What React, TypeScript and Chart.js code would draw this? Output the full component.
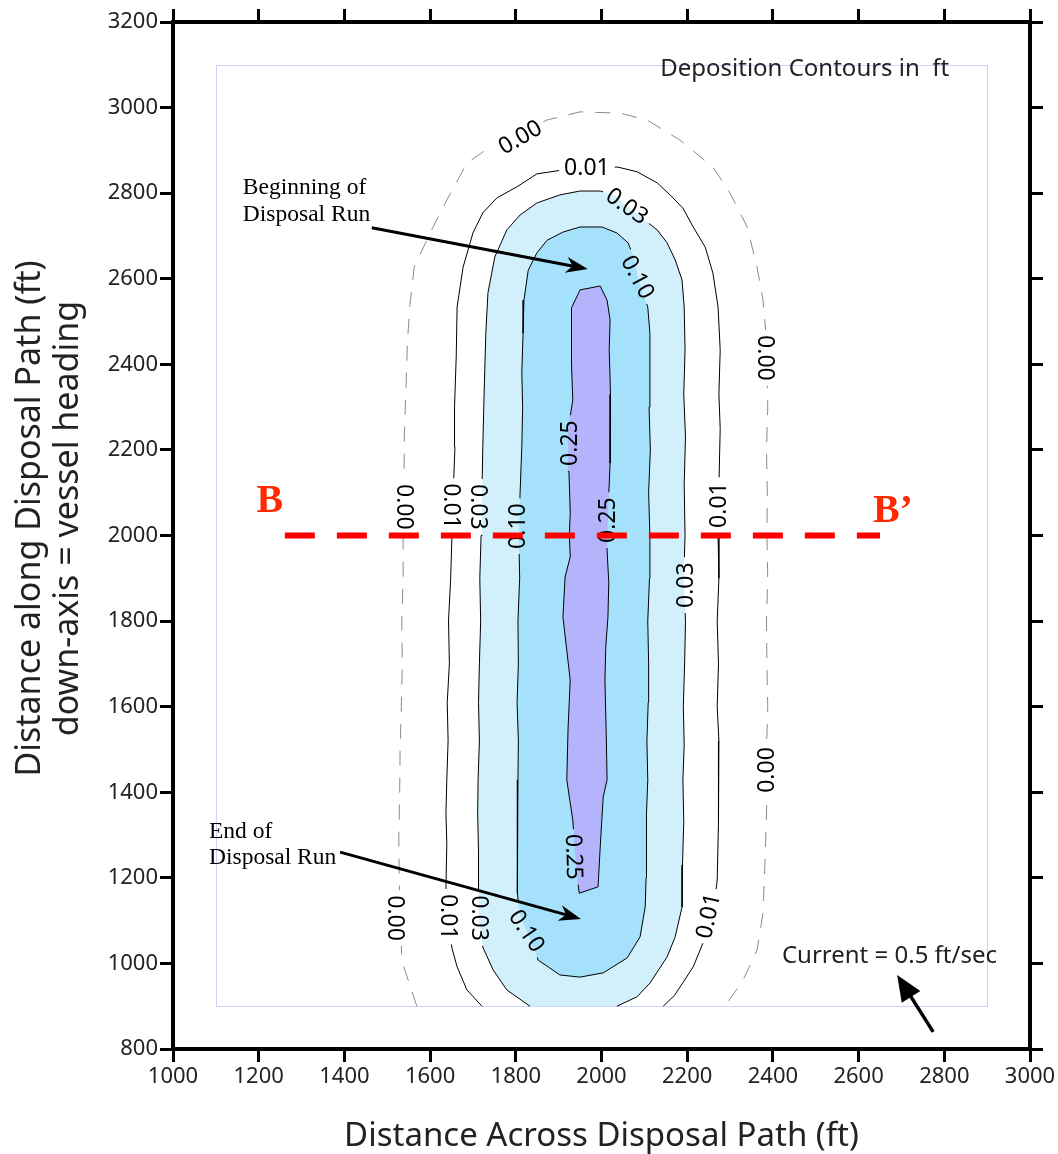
import React, { useEffect, useRef } from 'react';
import { Chart, registerables } from 'chart.js';

Chart.register(...registerables);

// ---- axes ----
const xRange = [1000, 3000];
const yRange = [800, 3200];
const tickStep = 200;
const xAxisTitle = 'Distance Across Disposal Path (ft)';
const yAxisTitle = ['Distance along Disposal Path (ft)', 'down-axis = vessel heading'];

// ---- model grid outline (ft) ----
const gridX = [1100, 2900];
const gridY = [900, 3100];

// ---- contour lines (x ft, y ft) ----
const contour000: [number, number][] = [
  [1569, 900], [1534, 1006], [1531, 1100], [1528, 1200], [1527, 1300], [1529, 1400], [1530, 1500],
  [1533, 1600], [1535, 1700], [1534, 1800], [1537, 1900], [1537, 2000], [1539, 2120],
  [1540, 2240], [1544, 2350], [1547, 2450], [1553, 2540], [1563, 2627], [1600, 2707], [1639, 2784], [1686, 2870], [1740, 2908],
  [1800, 2935], [1873, 2971], [1950, 2990], [2043, 2987], [2106, 2971], [2183, 2924], [2260, 2861],
  [2300, 2800], [2340, 2721], [2363, 2627], [2377, 2550], [2383, 2480], [2386, 2400], [2388, 2300],
  [2385, 2200], [2387, 2100], [2386, 2000], [2388, 1900], [2385, 1800], [2386, 1700],
  [2388, 1600], [2385, 1500], [2386, 1382], [2382, 1250], [2377, 1118], [2363, 1031], [2330, 960], [2288, 900],
];
const contour001: [number, number][] = [
  [1721, 900], [1686, 938], [1663, 992], [1651, 1036], [1640, 1100], [1637, 1179], [1639, 1280],
  [1637, 1350], [1639, 1429], [1642, 1520], [1640, 1610], [1645, 1700], [1643, 1800], [1648, 1900],
  [1651, 2000], [1654, 2100], [1658, 2207], [1657, 2300], [1661, 2420], [1663, 2534], [1677, 2627],
  [1700, 2707], [1723, 2754], [1756, 2789], [1803, 2815], [1849, 2845], [1908, 2854], [1966, 2859],
  [2038, 2861], [2083, 2850], [2130, 2824], [2160, 2796], [2190, 2765], [2214, 2721], [2242, 2674],
  [2260, 2613], [2272, 2534], [2277, 2434], [2274, 2330], [2277, 2250], [2275, 2160], [2272, 2000],
  [2274, 1900], [2270, 1800], [2273, 1700], [2270, 1600], [2274, 1520], [2272, 1429], [2274, 1330],
  [2270, 1195], [2260, 1110], [2237, 1048], [2214, 992], [2190, 955], [2170, 925], [2144, 900],
];
const contour003: [number, number][] = [
  [1833, 900], [1779, 938], [1747, 985], [1723, 1038], [1714, 1106], [1712, 1164], [1714, 1260],
  [1711, 1350], [1712, 1429], [1715, 1520], [1713, 1610], [1715, 1700], [1718, 1800], [1716, 1900],
  [1719, 2000], [1721, 2100], [1723, 2207], [1726, 2330], [1730, 2473], [1735, 2567], [1751, 2651],
  [1779, 2714], [1810, 2749], [1849, 2777], [1903, 2796], [1950, 2805], [1997, 2805], [2030, 2795],
  [2060, 2770], [2095, 2742], [2130, 2714], [2153, 2684], [2172, 2644], [2188, 2597], [2193, 2534],
  [2195, 2434], [2192, 2330], [2196, 2230], [2193, 2120], [2195, 2000], [2192, 1900], [2196, 1800],
  [2194, 1700], [2191, 1600], [2193, 1510], [2190, 1429], [2192, 1330], [2189, 1230], [2188, 1132],
  [2172, 1062], [2153, 1015], [2113, 954], [2083, 922], [2036, 900],
];
const contour010: [number, number][] = [
  [1805, 1429], [1803, 1330], [1805, 1240], [1803, 1164], [1810, 1110], [1826, 1076], [1852, 1008],
  [1903, 973], [1950, 968], [2004, 978], [2060, 1013], [2090, 1062], [2102, 1132], [2104, 1200],
  [2106, 1272], [2104, 1350], [2108, 1429], [2106, 1520], [2109, 1610], [2110, 1700], [2108, 1800],
  [2112, 1900], [2113, 2000], [2110, 2100], [2114, 2200], [2111, 2300], [2113, 2400], [2113, 2473],
  [2108, 2534], [2095, 2570], [2085, 2604], [2075, 2650], [2062, 2684], [2036, 2707], [2001, 2721],
  [1950, 2721], [1910, 2709], [1873, 2690], [1849, 2660], [1829, 2620], [1819, 2550], [1817, 2473],
  [1814, 2380], [1816, 2300], [1814, 2207], [1810, 2100], [1807, 2000], [1809, 1900], [1805, 1800],
  [1806, 1700], [1803, 1610], [1806, 1520], [1805, 1429],
];
const contour025: [number, number][] = [
  [1950, 2574], [1997, 2583], [2013, 2550], [2020, 2504], [2018, 2434], [2021, 2330], [2020, 2207],
  [2020, 2169], [2016, 2070], [2013, 1966], [2017, 1890], [2015, 1809], [2010, 1740], [2008, 1662],
  [2011, 1540], [2013, 1429], [2004, 1389], [1997, 1272], [1992, 1179], [1948, 1164], [1940, 1230],
  [1933, 1335], [1919, 1429], [1922, 1550], [1927, 1662], [1918, 1740], [1910, 1809], [1915, 1903],
  [1927, 1950], [1925, 2000], [1927, 2053], [1924, 2150], [1922, 2247], [1933, 2317], [1930, 2400],
  [1929, 2473], [1931, 2532], [1950, 2574],
];

// ---- contour labels: text, x ft, y ft, angle deg ----
const labels000 = [
  { t: '0.00', x: 1810, y: 2931, a: -30 }, { t: '0.00', x: 1541, y: 2067, a: 90 },
  { t: '0.00', x: 1520, y: 1106, a: 90 }, { t: '0.00', x: 2382, y: 2415, a: 90 },
  { t: '0.00', x: 2386, y: 1452, a: -90 },
];
const labels001 = [
  { t: '0.01', x: 1966, y: 2859, a: 0 }, { t: '0.01', x: 1651, y: 2069, a: 90 },
  { t: '0.01', x: 1644, y: 1109, a: 90 }, { t: '0.01', x: 2272, y: 2071, a: -90 },
  { t: '0.01', x: 2249, y: 1111, a: -78 },
];
const labels003 = [
  { t: '0.03', x: 2060, y: 2770, a: 35 }, { t: '0.03', x: 1714, y: 2067, a: 90 },
  { t: '0.03', x: 1716, y: 1106, a: 90 }, { t: '0.03', x: 2195, y: 1884, a: -90 },
];
const labels010 = [
  { t: '0.10', x: 2085, y: 2604, a: 62 }, { t: '0.10', x: 1805, y: 2022, a: -90 },
  { t: '0.10', x: 1826, y: 1076, a: 56 },
];
const labels025 = [
  { t: '0.25', x: 1926, y: 2216, a: -90 }, { t: '0.25', x: 2015, y: 2036, a: -90 },
  { t: '0.25', x: 1936, y: 1249, a: 88 },
];

// ---- cross-section B-B' ----
const sectionLine: [number, number][] = [[1261, 2000], [2650, 2000]];
const sectionNames = [{ t: 'B', x: 1226, y: 2078 }, { t: 'B\u2019', x: 2680, y: 2055 }];

// ---- annotations ----
const legendNote = { t: 'Deposition Contours in  ft', x: 2137, y: 3090 };
const currentNote = { t: 'Current = 0.5 ft/sec', x: 2421, y: 1017 };
const currentArrow: [number, number][] = [[2774, 840], [2690, 973]];
const beginNote = { lines: ['Beginning of', 'Disposal Run'], x: 1163, y: [2812, 2749] };
const beginArrow: [number, number][] = [[1464, 2719], [1968, 2623]];
const endNote = { lines: ['End of', 'Disposal Run'], x: 1084, y: [1307, 1246] };
const endArrow: [number, number][] = [[1390, 1260], [1952, 1104]];

const FONT = 'Noto Sans';
const SERIF = 'Liberation Serif';

const pts = (a: [number, number][]) => a.map(([x, y]) => ({ x, y }));

function drawArrow(ctx: CanvasRenderingContext2D, x1: number, y1: number, x2: number, y2: number,
  headLen: number, halfW: number, lw: number, barbed: boolean) {
  const dx = x2 - x1, dy = y2 - y1;
  const L = Math.hypot(dx, dy);
  const ux = dx / L, uy = dy / L;
  const px = -uy, py = ux;
  const bx = x2 - ux * headLen, by = y2 - uy * headLen;
  ctx.save();
  ctx.strokeStyle = '#000';
  ctx.fillStyle = '#000';
  ctx.lineWidth = lw;
  ctx.lineCap = 'butt';
  ctx.beginPath();
  ctx.moveTo(x1, y1);
  ctx.lineTo(x2 - ux * headLen * 0.6, y2 - uy * headLen * 0.6);
  ctx.stroke();
  ctx.beginPath();
  ctx.moveTo(x2, y2);
  ctx.lineTo(bx + px * halfW, by + py * halfW);
  if (barbed) ctx.lineTo(x2 - ux * headLen * 0.7, y2 - uy * headLen * 0.7);
  ctx.lineTo(bx - px * halfW, by - py * halfW);
  ctx.closePath();
  ctx.fill();
  ctx.restore();
}

function labelRectPath(ctx: CanvasRenderingContext2D, cx: number, cy: number, w: number, h: number, ang: number) {
  const c = Math.cos(ang), s = Math.sin(ang);
  const corners = [[-w / 2, -h / 2], [w / 2, -h / 2], [w / 2, h / 2], [-w / 2, h / 2]];
  corners.forEach(([u, v], i) => {
    const X = cx + u * c - v * s;
    const Y = cy + u * s + v * c;
    if (i === 0) ctx.moveTo(X, Y); else ctx.lineTo(X, Y);
  });
  ctx.closePath();
}

export default function App() {
  const ref = useRef<HTMLCanvasElement | null>(null);

  useEffect(() => {
    const canvas = ref.current;
    if (!canvas) return;

    const labelSets: Record<string, { t: string; x: number; y: number; a: number }[]> = {
      '0.00': labels000, '0.01': labels001, '0.03': labels003, '0.10': labels010, '0.25': labels025,
    };
    const labelFont = `23px "${FONT}"`;

    const decor = {
      id: 'decor',
      beforeDatasetsDraw(chart: any) {
        const { ctx, scales } = chart;
        const x = scales.x, y = scales.y;
        ctx.save();
        ctx.strokeStyle = '#c8d3f6';
        ctx.lineWidth = 1;
        const l = Math.round(x.getPixelForValue(gridX[0])) + 0.5;
        const r = Math.round(x.getPixelForValue(gridX[1])) + 0.5;
        const t = Math.round(y.getPixelForValue(gridY[1])) + 0.5;
        const b = Math.round(y.getPixelForValue(gridY[0])) + 0.5;
        ctx.strokeRect(l, t, r - l, b - t);
        ctx.restore();
      },
      beforeDatasetDraw(chart: any, args: any) {
        const ds = chart.data.datasets[args.index];
        const { ctx, scales } = chart;
        if (ds.levelKey) {
          const list = labelSets[ds.levelKey] || [];
          ctx.save();
          ctx.font = labelFont;
          ctx.beginPath();
          ctx.rect(0, 0, chart.width, chart.height);
          list.forEach((lb) => {
            const w = ctx.measureText(lb.t).width + 10;
            labelRectPath(ctx, scales.x.getPixelForValue(lb.x), scales.y.getPixelForValue(lb.y), w, 20, (lb.a * Math.PI) / 180);
          });
          ctx.clip('evenodd');
          ds._clipped = true;
        }
        if (ds.isSection) {
          ctx.save();
          ctx.font = labelFont;
          ctx.fillStyle = '#000';
          ctx.textAlign = 'center';
          ctx.textBaseline = 'middle';
          Object.values(labelSets).forEach((list) => list.forEach((lb) => {
            ctx.save();
            ctx.translate(scales.x.getPixelForValue(lb.x), scales.y.getPixelForValue(lb.y));
            ctx.rotate((lb.a * Math.PI) / 180);
            ctx.fillText(lb.t, 0, 1);
            ctx.restore();
          }));
          ctx.restore();
        }
      },
      afterDatasetDraw(chart: any, args: any) {
        const ds = chart.data.datasets[args.index];
        if (ds._clipped) {
          chart.ctx.restore();
          ds._clipped = false;
        }
      },
      afterDatasetsDraw(chart: any) {
        const { ctx, scales } = chart;
        const X = (v: number) => scales.x.getPixelForValue(v);
        const Y = (v: number) => scales.y.getPixelForValue(v);
        ctx.save();
        ctx.font = `bold 40px "${SERIF}"`;
        ctx.fillStyle = '#ff2a00';
        ctx.textAlign = 'center';
        ctx.textBaseline = 'middle';
        sectionNames.forEach((s) => ctx.fillText(s.t, X(s.x), Y(s.y)));
        ctx.font = `24px "${FONT}"`;
        ctx.fillStyle = '#222';
        ctx.textAlign = 'left';
        ctx.fillText(legendNote.t, X(legendNote.x), Y(legendNote.y));
        ctx.fillText(currentNote.t, X(currentNote.x), Y(currentNote.y));
        ctx.font = `23.5px "${SERIF}"`;
        ctx.fillStyle = '#000';
        beginNote.lines.forEach((ln, i) => ctx.fillText(ln, X(beginNote.x), Y(beginNote.y[i])));
        endNote.lines.forEach((ln, i) => ctx.fillText(ln, X(endNote.x), Y(endNote.y[i])));
        ctx.restore();
        drawArrow(ctx, X(beginArrow[0][0]), Y(beginArrow[0][1]), X(beginArrow[1][0]), Y(beginArrow[1][1]), 22, 8, 3, true);
        drawArrow(ctx, X(endArrow[0][0]), Y(endArrow[0][1]), X(endArrow[1][0]), Y(endArrow[1][1]), 22, 8, 3, true);
        drawArrow(ctx, X(currentArrow[0][0]), Y(currentArrow[0][1]), X(currentArrow[1][0]), Y(currentArrow[1][1]), 26, 11, 3.5, false);
      },
      afterDraw(chart: any) {
        const { ctx, chartArea } = chart;
        const cy = (chartArea.top + chartArea.bottom) / 2 - 17;
        ctx.save();
        ctx.font = `34px "${FONT}"`;
        ctx.fillStyle = '#222';
        ctx.textAlign = 'center';
        ctx.textBaseline = 'middle';
        [30, 68].forEach((cx, i) => {
          ctx.save();
          ctx.translate(cx, cy);
          ctx.rotate(-Math.PI / 2);
          ctx.fillText(yAxisTitle[i], 0, 0);
          ctx.restore();
        });
        ctx.restore();
      },
    };

    const tickFont = { family: FONT, size: 22 };
    const grid = { drawOnChartArea: false, drawTicks: true, tickLength: 13, lineWidth: 3, color: '#000' };
    const border = { display: true, width: 4, color: '#000' };

    const line = (data: [number, number][], key: string, extra: any = {}) => ({
      data: pts(data), levelKey: key, borderColor: '#000', borderWidth: 1, pointRadius: 0,
      fill: false, tension: 0, ...extra,
    });
    const area = (data: [number, number][], color: string, order: number) => ({
      data: pts(data), fill: 'shape', backgroundColor: color, borderWidth: 0, borderColor: 'rgba(0,0,0,0)',
      pointRadius: 0, tension: 0, order,
    });

    const chart = new Chart(canvas, {
      type: 'line',
      data: {
        datasets: [
          area(contour003, '#d2f0fc', 12),
          area(contour010, '#a6e1fb', 11),
          area(contour025, '#b4b4fc', 10),
          line(contour000, '0.00', { borderColor: '#8a8a8a', borderDash: [15, 12], order: 6 }),
          line(contour001, '0.01', { order: 5 }),
          line(contour003, '0.03', { order: 4 }),
          line(contour010, '0.10', { order: 3 }),
          line(contour025, '0.25', { order: 2 }),
          {
            data: pts(sectionLine), isSection: true, borderColor: '#ff0000', borderWidth: 6,
            borderDash: [30, 22], borderCapStyle: 'butt', pointRadius: 0, fill: false, order: 0,
          },
        ] as any,
      },
      options: {
        animation: false,
        responsive: false,
        devicePixelRatio: 1,
        events: [],
        layout: { padding: 0 },
        plugins: { legend: { display: false }, tooltip: { enabled: false }, filler: { propagate: false } },
        scales: {
          x: {
            type: 'linear', position: 'bottom', min: xRange[0], max: xRange[1],
            ticks: { stepSize: tickStep, callback: (v: any) => String(v), font: tickFont, color: '#222', padding: 2, maxRotation: 0, autoSkip: false },
            grid, border,
            title: { display: true, text: xAxisTitle, font: { family: FONT, size: 33, lineHeight: 1 }, color: '#222', padding: { top: 0, bottom: 1 } },
            afterFit: (s: any) => { s.height = 105; },
          },
          y: {
            type: 'linear', position: 'left', min: yRange[0], max: yRange[1],
            ticks: { stepSize: tickStep, callback: (v: any) => String(v), font: tickFont, color: '#222', padding: 2, autoSkip: false },
            grid, border,
            afterFit: (s: any) => { s.width = 173; },
          },
          xTop: {
            type: 'linear', position: 'top', min: xRange[0], max: xRange[1],
            ticks: { stepSize: tickStep, display: false }, grid, border,
            afterFit: (s: any) => { s.height = 22; },
          },
          yRight: {
            type: 'linear', position: 'right', min: yRange[0], max: yRange[1],
            ticks: { stepSize: tickStep, display: false }, grid, border,
            afterFit: (s: any) => { s.width = 28; },
          },
        },
      } as any,
      plugins: [decor],
    });
    return () => chart.destroy();
  }, []);

  return (
    <div style={{ position: 'fixed', left: 0, top: 0, width: 1058, height: 1154, background: '#fff' }}>
      <canvas ref={ref} width={1058} height={1154} style={{ width: 1058, height: 1154, display: 'block' }} />
    </div>
  );
}
